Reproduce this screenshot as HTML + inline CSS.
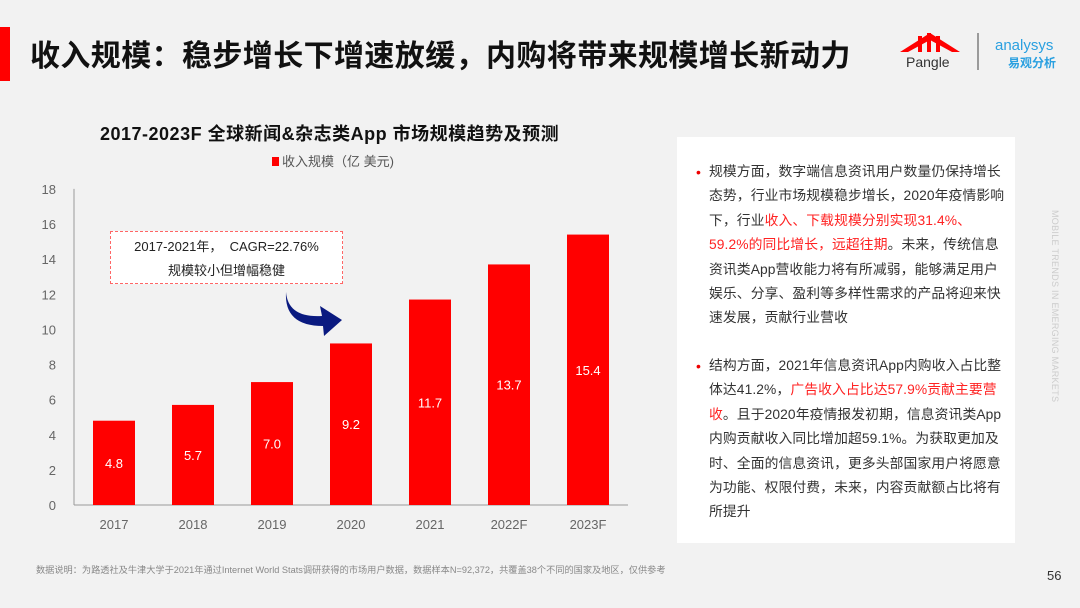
<!DOCTYPE html>
<html><head><meta charset="utf-8">
<style>
body{margin:0;width:1080px;height:608px;background:#f2f2f2;overflow:hidden;font-family:"Liberation Sans","Noto Sans CJK SC",sans-serif;position:relative}
.abs{position:absolute}
#panel{left:677px;top:137px;width:338px;height:406px;background:#fff}
#panel p{margin:0;position:absolute;left:32px;width:298px;font-size:13.8px;line-height:24.4px;color:#333;letter-spacing:0.1px}
#panel .b{position:absolute;left:-13px;color:#e00;font-size:14px}
.r{color:#f22}
</style></head><body>
<div class="abs" style="left:0;top:27px;width:10px;height:54px;background:#f00"></div>
<div class="abs" style="left:30px;top:31px;font-size:30px;font-weight:bold;color:#111;letter-spacing:0.4px">收入规模：稳步增长下增速放缓，内购将带来规模增长新动力</div>
<svg class="abs" style="left:900px;top:30px" width="180" height="45">
<polygon points="0,22 30,3 60,22 52,22 30,10 8,22" fill="#f00"/>
<rect x="18" y="6" width="4" height="16" fill="#f00"/><rect x="27" y="3" width="4" height="19" fill="#f00"/><rect x="36" y="6" width="4" height="16" fill="#f00"/>
<text x="6" y="37" font-size="14" fill="#333" font-family="Liberation Sans">Pangle</text>
<line x1="78" y1="3" x2="78" y2="40" stroke="#444" stroke-width="1"/>
<text x="95" y="20" font-size="15" fill="#2aa0e0" font-family="Liberation Sans">analysys</text>
<text x="108" y="37" font-size="12" fill="#2aa0e0" font-weight="bold" font-family="Liberation Sans,Noto Sans CJK SC">易观分析</text>
</svg>
<div class="abs" style="left:100px;top:120px;font-size:18px;font-weight:bold;color:#111;letter-spacing:0.5px">2017-2023F 全球新闻&amp;杂志类App 市场规模趋势及预测</div>
<div class="abs" style="left:272px;top:151px;font-size:13px;color:#555"><span style="display:inline-block;width:7px;height:9px;background:#f00;margin-right:3px"></span>收入规模（亿 美元)</div>
<svg id="chart" class="abs" style="left:0;top:0" width="660" height="560"></svg>
<div class="abs" style="left:110px;top:231px;width:233px;height:53px;border:1px dashed #f66;background:#fff;text-align:center;font-size:13px;line-height:24px;color:#222;padding-top:3px;box-sizing:border-box">2017-2021年，&nbsp;&nbsp;CAGR=22.76%<br>规模较小但增幅稳健</div>
<svg class="abs" style="left:280px;top:290px" width="70" height="50">
<path d="M6,2 Q8,28 42,26 L40,16 L62,30 L44,46 L43,36 Q4,36 6,2 Z" fill="#0a1a80"/>
</svg>
<div id="panel" class="abs">
<p style="top:23px"><span class="b">•</span>规模方面，数字端信息资讯用户数量仍保持增长态势，行业市场规模稳步增长，2020年疫情影响下，行业<span class="r">收入、下载规模分别实现31.4%、59.2%的同比增长，远超往期</span>。未来，传统信息资讯类App营收能力将有所减弱，能够满足用户娱乐、分享、盈利等多样性需求的产品将迎来快速发展，贡献行业营收</p>
<p style="top:217px"><span class="b">•</span>结构方面，2021年信息资讯App内购收入占比整体达41.2%，<span class="r">广告收入占比达57.9%贡献主要营收</span>。且于2020年疫情报发初期，信息资讯类App内购贡献收入同比增加超59.1%。为获取更加及时、全面的信息资讯，更多头部国家用户将愿意为功能、权限付费，未来，内容贡献额占比将有所提升</p>
</div>
<div class="abs" style="left:1050px;top:210px;writing-mode:vertical-rl;font-size:9px;color:#ccc;letter-spacing:0.3px">MOBILE TRENDS IN EMERGING MARKETS</div>
<div class="abs" style="left:36px;top:562px;font-size:9.2px;color:#888">数据说明：为路透社及牛津大学于2021年通过Internet World Stats调研获得的市场用户数据，数据样本N=92,372，共覆盖38个不同的国家及地区，仅供参考</div>
<div class="abs" style="left:1047px;top:568px;font-size:13px;color:#333">56</div>
<script>
const categories=["2017","2018","2019","2020","2021","2022F","2023F"];
const values=[4.8,5.7,7.0,9.2,11.7,13.7,15.4];
const yTicks=[0,2,4,6,8,10,12,14,16,18];
const NS="http://www.w3.org/2000/svg";
const svg=document.getElementById('chart');
const y0=505,pxPer=17.56,x0=114,step=79,bw=42;
function y(v){return y0-v*pxPer;}
function x(i){return x0+i*step;}
function mk(t,a){const e=document.createElementNS(NS,t);for(const k in a)e.setAttribute(k,a[k]);svg.appendChild(e);return e;}
let ax=mk('line',{x1:74,y1:y(18),x2:74,y2:y0,stroke:'#999'});


let bx=mk('line',{x1:74,y1:y0,x2:628,y2:y0,stroke:'#999'});


yTicks.forEach(t=>{const e=mk('text',{x:56,y:y(t)+5,'text-anchor':'end','font-size':13,fill:'#666'});e.textContent=t;

});
values.forEach((v,i)=>{
const r=mk('rect',{x:x(i)-bw/2,y:y(v),width:bw,height:y0-y(v),fill:'#ff0000'});


const l=mk('text',{x:x(i),y:(y(v)+y0)/2+5,'text-anchor':'middle','font-size':13,fill:'#fff'});l.textContent=v.toFixed(1);


const c=mk('text',{x:x(i),y:529,'text-anchor':'middle','font-size':13,fill:'#666'});c.textContent=categories[i];


});
</script>
</body></html>
